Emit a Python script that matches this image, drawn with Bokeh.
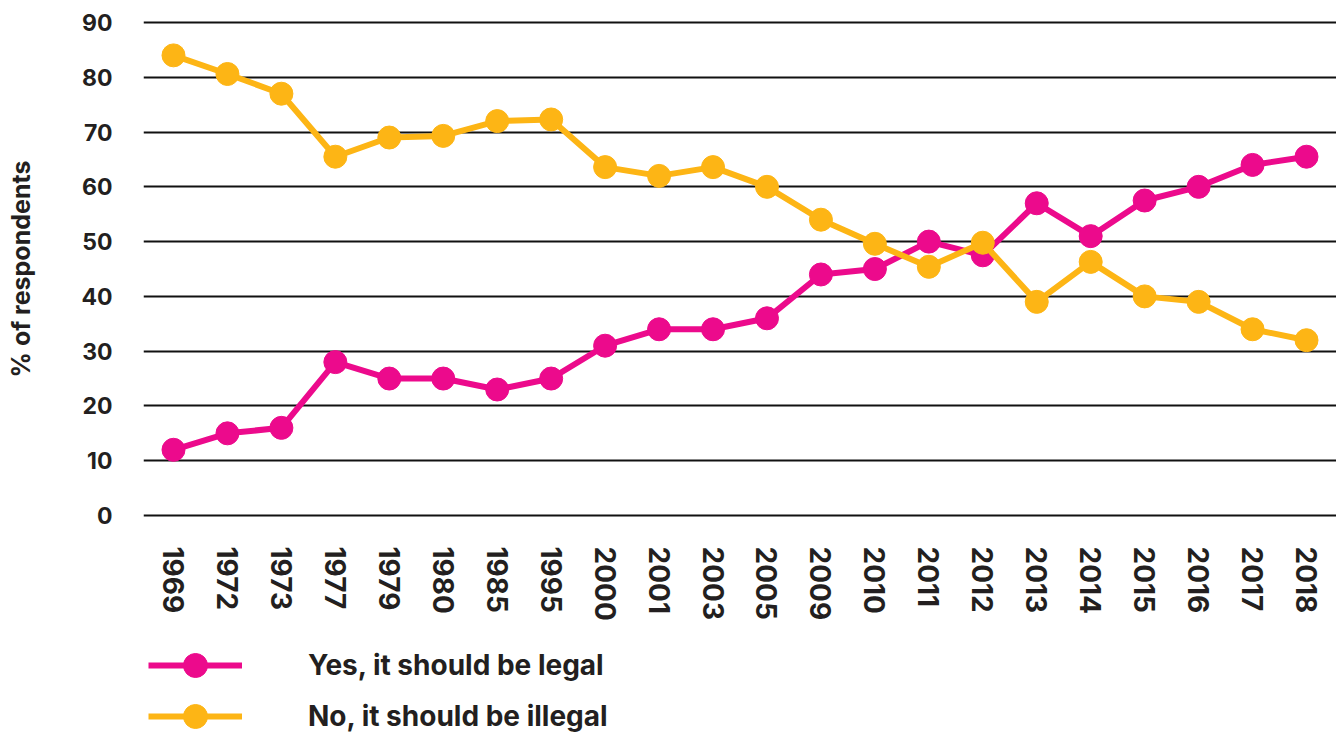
from bokeh.plotting import figure
from bokeh.layouts import column
from bokeh.models import FactorRange, Range1d, Legend, LegendItem, FixedTicker
from bokeh.embed import file_html
from bokeh.resources import INLINE

years = ["1969", "1972", "1973", "1977", "1979", "1980", "1985", "1995", "2000", "2001",
         "2003", "2005", "2009", "2010", "2011", "2012", "2013", "2014", "2015", "2016",
         "2017", "2018"]
legal = [12, 15, 16, 28, 25, 25, 23, 25, 31, 34, 34, 36, 44, 45, 50, 47.5, 57, 51, 57.5, 60, 64, 65.5]
illegal = [84, 80.6, 77, 65.5, 69, 69.3, 72, 72.3, 63.6, 62, 63.6, 60, 54, 49.6, 45.4, 49.8, 39, 46.3, 40, 39, 34, 32]
y_ticks = [0, 10, 20, 30, 40, 50, 60, 70, 80, 90]
series_labels = ["Yes, it should be legal", "No, it should be illegal"]
y_title = "% of respondents"

PINK = "#EC0A8C"
YELLOW = "#FDB515"
TEXT = "#231F20"
FONT = "Inter"

p = figure(
    x_range=FactorRange(factors=years, range_padding=0.056, range_padding_units="absolute"),
    y_range=Range1d(-1.46, 91.46),
    width=1336, height=630,
    min_border_left=143, min_border_top=14, min_border_right=0, min_border_bottom=107,
    output_backend="svg", toolbar_location=None,
)
p.outline_line_color = None
p.xgrid.grid_line_color = None
p.ygrid.ticker = FixedTicker(ticks=y_ticks)
p.ygrid.grid_line_color = "#111111"
p.ygrid.grid_line_width = 2

p.yaxis.ticker = FixedTicker(ticks=y_ticks)
for ax in (p.xaxis[0], p.yaxis[0]):
    ax.axis_line_color = None
    ax.major_tick_line_color = None
    ax.minor_tick_line_color = None
    ax.major_tick_out = 0
    ax.major_tick_in = 0
    ax.major_label_text_font = FONT
    ax.major_label_text_font_style = "bold"
    ax.major_label_text_color = TEXT

p.yaxis.major_label_text_font_size = "23px"
p.yaxis.major_label_standoff = 31
p.yaxis.axis_label = y_title
p.yaxis.axis_label_text_font = FONT
p.yaxis.axis_label_text_font_size = "25px"
p.yaxis.axis_label_text_font_style = "bold"
p.yaxis.axis_label_text_color = TEXT
p.yaxis.axis_label_standoff = 42

p.xaxis.major_label_orientation = "vertical"
p.xaxis.major_label_text_font_size = "28px"
p.xaxis.major_label_standoff = 23

p.line(years, legal, line_color=PINK, line_width=6)
p.scatter(years, legal, size=23, fill_color=PINK, line_color=PINK)
p.line(years, illegal, line_color=YELLOW, line_width=6)
p.scatter(years, illegal, size=23, fill_color=YELLOW, line_color=YELLOW)

# legend panel below the chart: proxies of the same series, kept out of view
q = figure(
    width=1336, height=107,
    x_range=FactorRange(factors=years), y_range=Range1d(500, 600),
    min_border=0, output_backend="svg", toolbar_location=None,
    x_axis_type=None, y_axis_type=None,
)
q.outline_line_color = None
q.grid.visible = False
ql1 = q.line(years, legal, line_color=PINK, line_width=6)
qc1 = q.scatter(years, legal, size=24, fill_color=PINK, line_color=PINK)
ql2 = q.line(years, illegal, line_color=YELLOW, line_width=6)
qc2 = q.scatter(years, illegal, size=24, fill_color=YELLOW, line_color=YELLOW)

common = dict(
    orientation="vertical",
    glyph_width=94, glyph_height=60, label_height=60, label_standoff=66,
    spacing=0, padding=0, margin=0,
    border_line_color=None, background_fill_alpha=0,
    label_text_font=FONT, label_text_font_size="28px", label_text_font_style="bold",
    label_text_color=TEXT, label_text_baseline="middle",
)
leg1 = Legend(items=[LegendItem(label=series_labels[0], renderers=[ql1, qc1])],
              location=(5, 42), **common)
leg2 = Legend(items=[LegendItem(label=series_labels[1], renderers=[ql2, qc2])],
              location=(5, -9), **common)
q.add_layout(leg1, "center")
q.add_layout(leg2, "center")

layout = column(p, q, spacing=0)
open("out.html", "w").write(file_html(layout, INLINE))
